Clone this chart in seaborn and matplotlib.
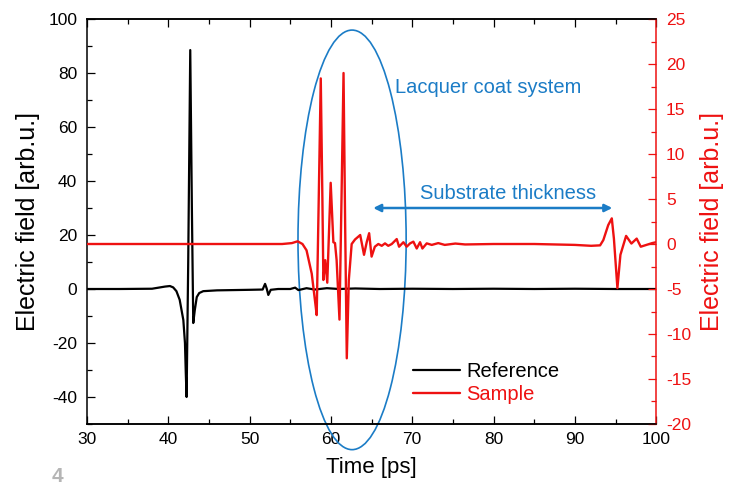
import pandas as pd
import matplotlib
matplotlib.use('Agg')
import matplotlib.pyplot as plt
from matplotlib.patches import Ellipse
from matplotlib.ticker import AutoMinorLocator, MultipleLocator
from matplotlib.lines import Line2D
import seaborn as sns

# reference pulse (left axis)
ref_time = [30, 34, 38, 38.8, 39.6, 40.2, 40.6, 41.0, 41.4, 41.85, 42.05, 42.15, 42.25, 42.45,
            42.7, 42.9, 43.07, 43.25, 43.5, 43.8, 44.3, 46, 48, 50, 51.6, 51.9, 52.1,
            52.3, 52.6, 53.5, 55, 55.6, 56, 57, 58, 59.5, 61, 63, 66, 70, 75, 80, 85,
            90, 95, 100]
ref_val = [0, 0, 0.1, 0.5, 0.9, 1.1, 0.6, -0.8, -4, -11.5, -20, -31, -40, 10,
           88.5, 30, -12.6, -8, -3, -1.5, -0.8, -0.5, -0.4, -0.3, -0.2, 1.9, 0.2,
           -2.2, -0.3, 0, 0, 0.5, -0.4, 0.3, -0.2, 0.3, 0, 0.2, 0, 0.1, 0, 0.1, 0,
           0.1, 0, 0]

# sample pulse (right axis)
sample_time = [30, 40, 50, 54, 55.2, 55.9, 56.5, 57.0, 57.64, 58.0, 58.25, 58.5, 58.75,
               58.95, 59.07, 59.3, 59.55, 59.97, 60.3, 60.5, 60.7, 61.05, 61.3, 61.55,
               61.75, 61.95, 62.2, 62.55, 62.96, 63.6, 64.07, 64.4, 64.7, 65.0, 65.4,
               65.83, 66.25, 66.65, 67.05, 67.48, 68.09, 68.38, 68.91, 69.32, 69.73,
               70.14, 70.55, 70.96, 71.25, 71.78, 72.4, 73.2, 74.0, 75.3, 76.5, 80, 85,
               90, 92, 93.1, 93.5, 94.1, 94.54, 94.8, 95.23, 95.6, 96.3, 96.95, 97.6,
               98.1, 98.8, 99.5, 100]
sample_val = [0, 0, 0, 0, 0.1, 0.3, 0, -0.7, -3.3, -6, -7.9, 5, 18.4,
              5, -4, -1.8, -4.3, 6.8, 0.2, 0.1, -1.8, -8.4, 5, 19,
              2, -12.7, -4, 0, 0.5, 1.0, -1.2, 0.2, 1.2, -1.4, -0.3,
              0, -0.2, 0.07, -0.2, 0, 0.55, -0.3, 0.2, -0.3, 0.07,
              0.26, -0.5, 0.2, -0.5, 0.07, -0.1, 0.1, -0.1, 0.05, -0.05, 0, 0,
              -0.1, -0.2, -0.15, 0.44, 2.1, 2.85, 0.6, -4.9, -1.2, 0.9, 0.05, 0.6,
              -0.3, -0.1, 0.1, 0.2]

ref = pd.DataFrame({'t': ref_time, 'E': ref_val})
sample = pd.DataFrame({'t': sample_time, 'E': sample_val})

sns.set_style('ticks')
plt.rcParams['font.family'] = ['Liberation Sans', 'DejaVu Sans']
plt.rcParams['axes.unicode_minus'] = False
plt.rcParams['text.color'] = 'black'
plt.rcParams['axes.labelcolor'] = 'black'
plt.rcParams['xtick.color'] = 'black'
plt.rcParams['ytick.color'] = 'black'
plt.rcParams['axes.edgecolor'] = 'black'

blue = '#1b7cc6'
red = '#ee1111'

fig = plt.figure(figsize=(7.34, 4.9), dpi=100)
ax = fig.add_axes([0.1185, 0.1347, 0.7755, 0.8265])
ax2 = ax.twinx()

sns.lineplot(data=ref, x='t', y='E', ax=ax, color='black', lw=1.6, sort=False)
sns.lineplot(data=sample, x='t', y='E', ax=ax2, color=red, lw=1.7, sort=False)

ax.set_xlim(30, 100)
ax.set_ylim(-50, 100)
ax2.set_ylim(-20, 25)

ax.xaxis.set_major_locator(MultipleLocator(10))
ax.xaxis.set_minor_locator(AutoMinorLocator(2))
ax.yaxis.set_major_locator(MultipleLocator(20))
ax.yaxis.set_minor_locator(AutoMinorLocator(2))
ax2.yaxis.set_major_locator(MultipleLocator(5))
ax2.yaxis.set_minor_locator(AutoMinorLocator(2))

ax.tick_params(axis='x', which='both', direction='in', top=True, labelsize=12.5, pad=6)
ax.tick_params(axis='y', which='both', direction='in', labelsize=12.5, pad=7)
ax.tick_params(which='major', length=6, width=0.9)
ax.tick_params(which='minor', length=3.5, width=0.9)
ax2.tick_params(axis='y', which='both', direction='in', colors=red, labelsize=12.5, pad=7)
ax2.tick_params(which='major', length=6, width=0.9)
ax2.tick_params(which='minor', length=3.5, width=0.9)

for a in (ax, ax2):
    for s in a.spines.values():
        s.set_linewidth(1.1)
ax.spines['right'].set_visible(False)
ax2.spines['left'].set_visible(False)
ax2.spines['right'].set_color(red)

ax.set_xlabel('Time [ps]', fontsize=16, labelpad=7)
ax.set_ylabel('Electric field [arb.u.]', fontsize=18, labelpad=6)
ax2.set_ylabel('Electric field [arb.u.]', fontsize=18, color=red, labelpad=6)

# ellipse around the coat echoes
ell = Ellipse((62.6, 18.2), 13.3, 155.4, transform=ax.transData, fill=False,
              edgecolor=blue, lw=1.2, clip_on=False)
ax.add_patch(ell)
ax.text(67.9, 74.5, 'Lacquer coat system', color=blue, fontsize=14.5, va='center')
ax.text(71.0, 35.5, 'Substrate thickness', color=blue, fontsize=14.5, va='center')
ax.annotate('', xy=(65.2, 30), xytext=(94.6, 30),
            arrowprops=dict(arrowstyle='<|-|>', color=blue, lw=1.8, mutation_scale=11,
                            shrinkA=0, shrinkB=0))

handles = [Line2D([], [], color='black', lw=1.6), Line2D([], [], color=red, lw=1.7)]
leg = fig.legend(handles, ['Reference', 'Sample'], loc='upper left',
                 bbox_to_anchor=(0.563, 0.262), frameon=False, fontsize=14.5,
                 handlelength=2.3, handletextpad=0.35, labelspacing=0.22,
                 borderpad=0, borderaxespad=0)
leg.get_texts()[1].set_color(red)

fig.text(0.071, 0.016, '4', color='#b5b5b5', fontsize=15, fontweight='bold')

fig.savefig('out.png', dpi=100)
